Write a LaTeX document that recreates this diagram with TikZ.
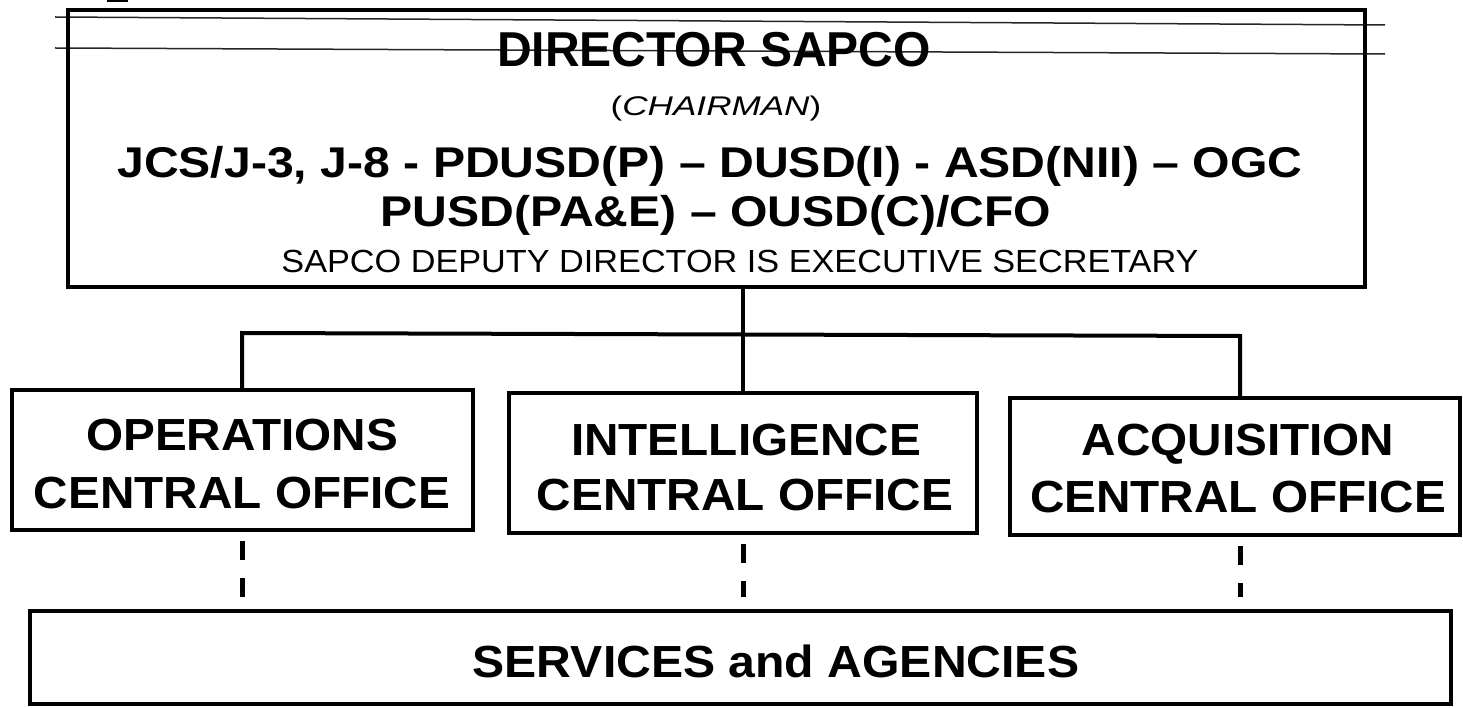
\documentclass[tikz,border=0pt]{standalone}
\usepackage{fontspec}
\setmainfont{Liberation Sans}
\newcommand{\hs}[2]{\scalebox{#1}[1]{#2}}
\begin{document}
\begin{tikzpicture}[x=1pt,y=-1pt,
  frame/.style={draw=black, line width=4.5pt, inner sep=0pt, fill=none},
  lbl/.style={inner sep=0pt, anchor=base},
  bus/.style={draw=black, line width=4pt},
  dashlink/.style={draw=black, line width=5pt, dash pattern=on 19pt off 18pt},
  scan/.style={draw=black!85, line width=1.5pt}]
\useasboundingbox (0,0) rectangle (1463,708);
\fill[white] (0,0) rectangle (1463,708);
% scan artefacts
\fill[black] (107,0) rectangle (128,2.5);
\draw[scan] (55,17) -- (1385,25);
\draw[scan] (55,48) -- (1385,54);
% top box
\node[frame, minimum width=1297pt, minimum height=277pt] (top) at (716.5,148.5) {};
\node[lbl, font=\bfseries\fontsize{49}{49}\selectfont] (t1) at (714,67) {\hs{0.98}{DIRECTOR SAPCO}};
\node[lbl, font=\fontsize{27}{27}\selectfont] (t2) at (716,116) {\hs{1.3}{(\textit{CHAIRMAN})}};
\node[lbl, font=\bfseries\fontsize{43}{43}\selectfont] (t3) at (710,178) {\hs{1.12}{JCS/J-3, J-8 - PDUSD(P) -- DUSD(I) - ASD(NII) -- OGC}};
\node[lbl, font=\bfseries\fontsize{43}{43}\selectfont] (t4) at (716,227) {\hs{1.12}{PUSD(PA\&E) -- OUSD(C)/CFO}};
\node[lbl, font=\fontsize{32}{32}\selectfont] (t5) at (740,273) {\hs{1.07}{SAPCO DEPUTY DIRECTOR IS EXECUTIVE SECRETARY}};
% office boxes
\node[frame, line width=4pt, minimum width=461pt, minimum height=140pt] (ops) at (242.5,460) {};
\node[frame, line width=4pt, minimum width=468pt, minimum height=140pt] (int) at (743,463) {};
\node[frame, line width=4pt, minimum width=450pt, minimum height=137pt] (acq) at (1235,466.5) {};
\node[lbl, font=\bfseries\fontsize{45}{45}\selectfont] (o1) at (242,450) {\hs{1.06}{OPERATIONS}};
\node[lbl, font=\bfseries\fontsize{45}{45}\selectfont] (o2) at (242,508) {\hs{1.06}{CENTRAL OFFICE}};
\node[lbl, font=\bfseries\fontsize{45}{45}\selectfont] (i1) at (746,455) {\hs{1.06}{INTELLIGENCE}};
\node[lbl, font=\bfseries\fontsize{45}{45}\selectfont] (i2) at (745,510) {\hs{1.06}{CENTRAL OFFICE}};
\node[lbl, font=\bfseries\fontsize{45}{45}\selectfont] (a1) at (1238,455) {\hs{1.06}{ACQUISITION}};
\node[lbl, font=\bfseries\fontsize{45}{45}\selectfont] (a2) at (1238,512) {\hs{1.06}{CENTRAL OFFICE}};
% bottom box
\node[frame, line width=4pt, minimum width=1421pt, minimum height=93pt] (svc) at (740.5,657) {};
\node[lbl, font=\bfseries\fontsize{45}{45}\selectfont] (s1) at (776,677) {\hs{1.07}{SERVICES and AGENCIES}};
% bus
\coordinate (busL) at (242,333);
\coordinate (busR) at (1240,336);
\draw[bus] (top.south -| int.north) -- (int.north);
\draw[bus, line join=miter] (ops.north -| busL) -- (busL) -- (busR) -- (acq.north -| busR);
% dashed links
\draw[dashlink] ([yshift=-9pt]ops.south -| busL) -- ([yshift=12pt]svc.north -| busL);
\draw[dashlink] ([yshift=-9pt]int.south) -- ([yshift=12pt]svc.north -| int.south);
\draw[dashlink] ([yshift=-9pt]acq.south -| busR) -- ([yshift=12pt]svc.north -| busR);
\end{tikzpicture}
\end{document}
